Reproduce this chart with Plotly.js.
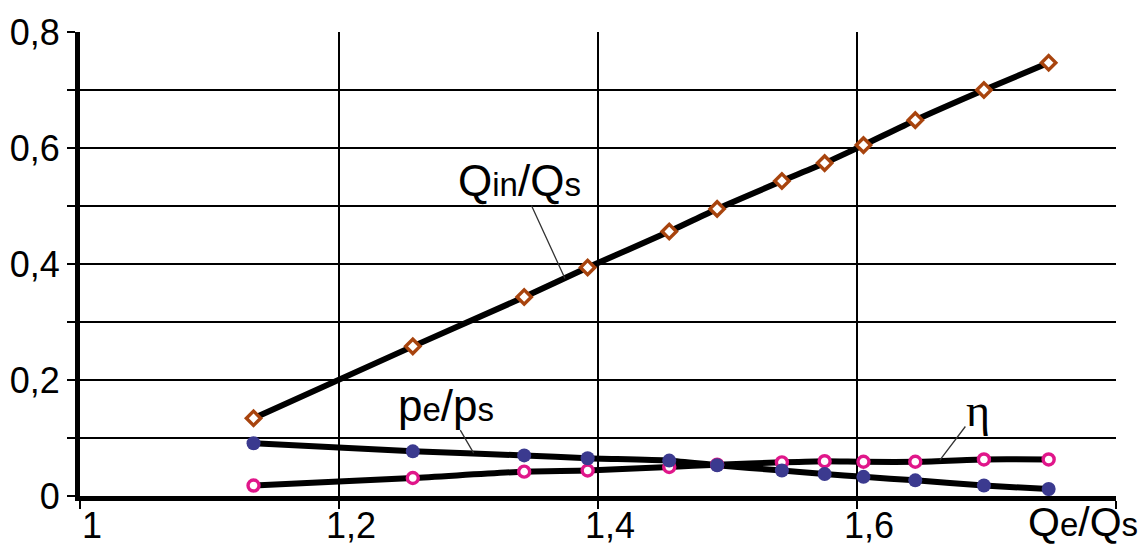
<!DOCTYPE html>
<html>
<head>
<meta charset="utf-8">
<script src="https://cdn.plot.ly/plotly-3.0.1.min.js"></script>
<style>html,body{margin:0;padding:0;background:#fff;}#chart{width:1145px;height:545px;}</style>
</head>
<body>
<div id="chart"></div>
<script>
// Relative flow Qe/Qs (x axis)
const qeQs = [1.134, 1.257, 1.343, 1.392, 1.455, 1.492, 1.542, 1.575, 1.605, 1.645, 1.698, 1.748];
// Qin/Qs series
const qinQs = [0.134, 0.258, 0.343, 0.394, 0.456, 0.495, 0.543, 0.574, 0.605, 0.648, 0.700, 0.747];
// pe/ps series
const pePs = [0.091, 0.077, 0.070, 0.065, 0.061, 0.053, 0.044, 0.038, 0.033, 0.027, 0.018, 0.012];
// efficiency eta series
const eta = [0.018, 0.031, 0.042, 0.044, 0.050, 0.054, 0.058, 0.060, 0.059, 0.059, 0.063, 0.063];

const xTickVals = [1, 1.2, 1.4, 1.6, 1.8];
const xTickText = ['1', '1,2', '1,4', '1,6', ''];

const lineStyle = {color: '#000', width: 6, shape: 'spline', smoothing: 0.6};

const traces = [
  {x: qeQs, y: qinQs, mode: 'lines', line: lineStyle, hoverinfo: 'skip'},
  {x: qeQs, y: pePs, mode: 'lines', line: lineStyle, hoverinfo: 'skip'},
  {x: qeQs, y: eta, mode: 'lines', line: lineStyle, hoverinfo: 'skip'},
  {x: qeQs, y: eta, mode: 'markers', name: 'η',
   marker: {symbol: 'circle', size: 11, color: '#ffffff', line: {color: '#e0168a', width: 3.4}}},
  {x: qeQs, y: pePs, mode: 'markers', name: 'pe/ps',
   marker: {symbol: 'circle', size: 14, color: '#3b3a8f', line: {width: 0}}},
  {x: qeQs, y: qinQs, mode: 'markers', name: 'Qin/Qs',
   marker: {symbol: 'diamond', size: 11, color: '#ffffff', line: {color: '#a8440e', width: 3.4}}}
];

const bigF = {family: 'Liberation Sans, Arial, sans-serif', size: 44, color: '#000'};
function sm(t){ return '<span style="font-size:33px">' + t + '</span>'; }

const layout = {
  width: 1145, height: 545,
  margin: {l: 80, r: 29, t: 32, b: 49},
  paper_bgcolor: '#fff', plot_bgcolor: '#fff',
  showlegend: false,
  separators: ', ',
  font: {family: 'Liberation Sans, Arial, sans-serif', size: 36, color: '#000'},
  xaxis: {
    range: [1, 1.8], tickvals: xTickVals, ticktext: xTickText,
    showgrid: true, gridcolor: '#000', gridwidth: 2.4,
    showline: true, linecolor: '#000', linewidth: 5,
    ticks: 'outside', ticklen: 8, tickwidth: 2.4, tickcolor: '#000',
    ticklabelshift: 12, ticklabelstandoff: -14,
    zeroline: false, fixedrange: true,
    tickfont: {size: 36}
  },
  yaxis: {
    range: [0, 0.8], dtick: 0.2, tick0: 0,
    showgrid: true, gridcolor: '#000', gridwidth: 2.4,
    showline: true, linecolor: '#000', linewidth: 5,
    ticks: 'outside', ticklen: 8, tickwidth: 2.4, tickcolor: '#000',
    minor: {dtick: 0.1, showgrid: true, gridcolor: '#000', gridwidth: 2.4, ticks: 'outside', ticklen: 8, tickwidth: 2.4, tickcolor: '#000'},
    zeroline: false, fixedrange: true,
    tickfont: {size: 36}
  },
  annotations: [
    {x: 1.3745, y: 0.375, xref: 'x', yref: 'y', text: 'Q' + sm('in') + '/Q' + sm('s'),
     font: bigF, showarrow: true, arrowhead: 0, arrowwidth: 1.3, arrowcolor: '#333',
     ax: -45, ay: -98, borderpad: 0},
    {x: 1.304, y: 0.074, xref: 'x', yref: 'y', text: 'p' + sm('e') + '/p' + sm('s'),
     font: bigF, showarrow: true, arrowhead: 0, arrowwidth: 1.3, arrowcolor: '#333',
     ax: -28, ay: -48, borderpad: 0},
    {x: 1.664, y: 0.062, xref: 'x', yref: 'y', text: 'η',
     font: {family: 'Liberation Serif, Times New Roman, serif', size: 46, color: '#000'},
     showarrow: true, arrowhead: 0, arrowwidth: 1.3, arrowcolor: '#333',
     ax: 38, ay: -50, borderpad: 0},
    {x: 1.8, y: 0, xref: 'x', yref: 'paper', xanchor: 'right', yanchor: 'top',
     xshift: 24, yshift: -1, text: 'Q' + sm('e') + '/Q' + sm('s'),
     font: {family: 'Liberation Sans, Arial, sans-serif', size: 41, color: '#000'}, showarrow: false}
  ]
};

Plotly.newPlot('chart', traces, layout, {displayModeBar: false, staticPlot: true});
</script>
</body>
</html>
